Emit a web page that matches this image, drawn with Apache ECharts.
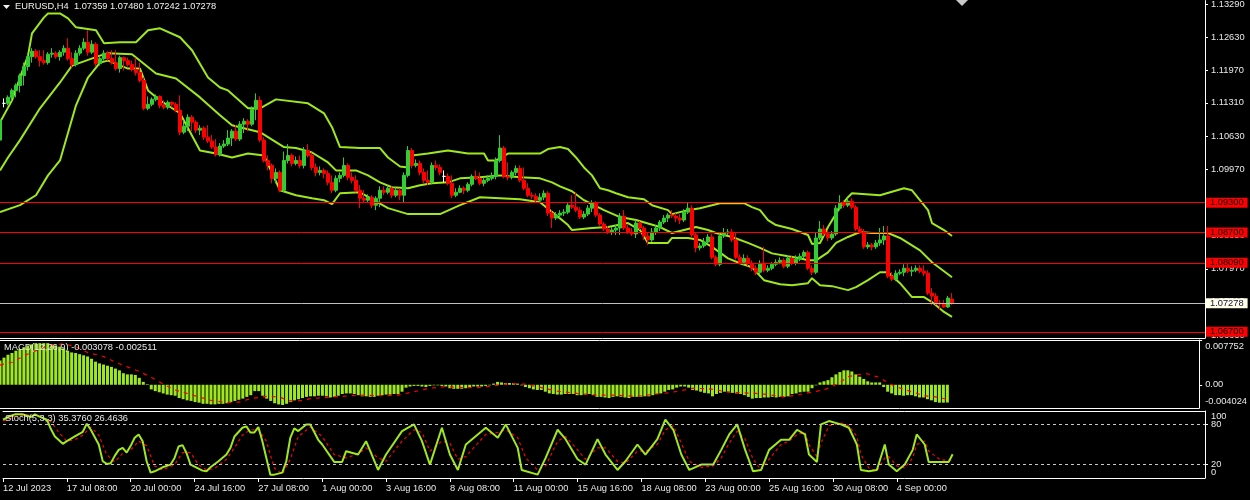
<!DOCTYPE html>
<html><head><meta charset="utf-8">
<script src="https://cdn.jsdelivr.net/npm/echarts@6/dist/echarts.min.js"></script>
<style>html,body{margin:0;padding:0;background:#000}#c{width:1250px;height:500px}</style>
</head><body><div id="c"></div>
<script>
const tickLabels = ['12 Jul 2023','17 Jul 08:00','20 Jul 00:00','24 Jul 16:00','27 Jul 08:00','1 Aug 00:00','3 Aug 16:00','8 Aug 08:00','11 Aug 00:00','15 Aug 16:00','18 Aug 08:00','23 Aug 00:00','25 Aug 16:00','30 Aug 08:00','4 Sep 00:00'];
const tickBars = [0,16,32,48,64,80,96,112,128,144,160,176,192,208,224];
const priceTicks = [1.1329,1.1263,1.1197,1.1131,1.1063,1.0997,1.0931,1.0865,1.0797,1.0731,1.0663];
const macdTicks = [0.007752,0,-0.004024];
const stochLevels = [20,80];
const stochEnds = [0,100];
const levels = [1.093,1.087,1.0809,1.067];
const lastPrice = 1.07278;
// [open, high, low, close]
const candles = [
[1.1056,1.1106,1.1052,1.1096],[1.1130,1.1140,1.1122,1.1130],[1.1130,1.1146,1.1126,1.1142],[1.1142,1.1160,1.1136,1.1156],[1.1156,1.1170,1.1142,1.1166],
[1.1166,1.1190,1.1152,1.1186],[1.1186,1.1212,1.1166,1.1204],[1.1204,1.1231,1.1196,1.1224],[1.1224,1.1241,1.1212,1.1235],[1.1235,1.1239,1.1220,1.1224],
[1.1224,1.1237,1.1204,1.1216],[1.1216,1.1237,1.1208,1.1212],[1.1212,1.1233,1.1208,1.1229],[1.1229,1.1241,1.1222,1.1231],[1.1231,1.1235,1.1220,1.1224],
[1.1224,1.1237,1.1216,1.1233],[1.1233,1.1247,1.1226,1.1241],[1.1241,1.1261,1.1216,1.1220],[1.1220,1.1233,1.1202,1.1208],[1.1208,1.1237,1.1204,1.1231],
[1.1231,1.1247,1.1226,1.1241],[1.1241,1.1261,1.1237,1.1253],[1.1253,1.1277,1.1226,1.1233],[1.1233,1.1257,1.1229,1.1249],[1.1249,1.1253,1.1204,1.1210],
[1.1210,1.1226,1.1206,1.1220],[1.1220,1.1237,1.1216,1.1231],[1.1231,1.1235,1.1216,1.1220],[1.1220,1.1237,1.1208,1.1212],[1.1212,1.1237,1.1196,1.1200],
[1.1200,1.1226,1.1192,1.1222],[1.1222,1.1224,1.1196,1.1216],[1.1216,1.1222,1.1204,1.1208],[1.1208,1.1216,1.1194,1.1198],[1.1198,1.1222,1.1186,1.1192],
[1.1192,1.1212,1.1172,1.1176],[1.1176,1.1182,1.1116,1.1120],[1.1120,1.1144,1.1116,1.1128],[1.1128,1.1142,1.1124,1.1138],[1.1138,1.1148,1.1134,1.1144],
[1.1144,1.1146,1.1120,1.1126],[1.1126,1.1136,1.1118,1.1122],[1.1122,1.1136,1.1118,1.1132],[1.1132,1.1134,1.1122,1.1128],[1.1128,1.1132,1.1112,1.1116],
[1.1116,1.1146,1.1066,1.1072],[1.1072,1.1096,1.1068,1.1084],[1.1084,1.1108,1.1074,1.1102],[1.1102,1.1106,1.1074,1.1092],[1.1092,1.1096,1.1070,1.1076],
[1.1076,1.1086,1.1066,1.1080],[1.1080,1.1084,1.1056,1.1062],[1.1062,1.1086,1.1050,1.1054],[1.1054,1.1066,1.1038,1.1042],[1.1042,1.1058,1.1023,1.1027],
[1.1027,1.1050,1.1023,1.1044],[1.1044,1.1056,1.1040,1.1048],[1.1048,1.1076,1.1044,1.1060],[1.1060,1.1078,1.1044,1.1074],[1.1074,1.1086,1.1054,1.1058],
[1.1058,1.1094,1.1054,1.1088],[1.1088,1.1100,1.1070,1.1094],[1.1094,1.1098,1.1074,1.1088],[1.1088,1.1124,1.1084,1.1118],[1.1118,1.1150,1.1096,1.1136],
[1.1136,1.1144,1.1052,1.1056],[1.1056,1.1062,1.1011,1.1015],[1.1015,1.1025,1.0995,1.1005],[1.1005,1.1009,1.0969,1.0979],[1.0979,1.0999,1.0969,1.0991],
[1.0991,1.0995,1.0951,1.0955],[1.0955,1.1033,1.0951,1.1015],[1.1015,1.1048,1.1009,1.1025],[1.1025,1.1029,1.1003,1.1009],[1.1009,1.1023,1.1005,1.1015],
[1.1015,1.1025,1.0999,1.1005],[1.1005,1.1042,1.0999,1.1035],[1.1035,1.1048,1.1021,1.1025],[1.1025,1.1031,1.0995,1.1001],[1.1001,1.1009,1.0983,1.0991],
[1.0991,1.1003,1.0985,1.0995],[1.0995,1.0999,1.0979,1.0989],[1.0989,1.0995,1.0965,1.0971],[1.0971,1.0985,1.0949,1.0955],[1.0955,1.0985,1.0951,1.0979],
[1.0979,1.0991,1.0971,1.0985],[1.0985,1.1021,1.0981,1.1005],[1.1005,1.1009,1.0975,1.0981],[1.0981,1.0991,1.0969,1.0975],[1.0975,1.0985,1.0951,1.0955],
[1.0955,1.0965,1.0919,1.0939],[1.0939,1.0955,1.0929,1.0935],[1.0935,1.0947,1.0931,1.0941],[1.0941,1.0945,1.0919,1.0925],[1.0925,1.0943,1.0915,1.0939],
[1.0939,1.0963,1.0921,1.0955],[1.0955,1.0963,1.0945,1.0951],[1.0951,1.0965,1.0947,1.0959],[1.0959,1.0963,1.0939,1.0945],[1.0945,1.0961,1.0941,1.0955],
[1.0955,1.0959,1.0935,1.0945],[1.0945,1.0991,1.0931,1.0985],[1.0985,1.1044,1.0981,1.1035],[1.1035,1.1040,1.0999,1.1005],[1.1005,1.1017,1.1001,1.1009],
[1.1009,1.1015,1.0985,1.0991],[1.0991,1.0999,1.0969,1.0975],[1.0975,1.0995,1.0965,1.0971],[1.0971,1.1011,1.0967,1.1005],[1.1005,1.1015,1.0995,1.1001],
[1.1001,1.1007,1.0985,1.0991],[1.0983,1.0995,1.0971,1.0983],[1.0983,1.0989,1.0965,1.0969],[1.0969,1.0985,1.0939,1.0945],[1.0945,1.0959,1.0941,1.0951],
[1.0951,1.0965,1.0949,1.0959],[1.0959,1.0963,1.0947,1.0955],[1.0955,1.0971,1.0951,1.0967],[1.0967,1.0987,1.0963,1.0983],[1.0983,1.0995,1.0975,1.0979],
[1.0979,1.0991,1.0965,1.0969],[1.0969,1.0981,1.0963,1.0975],[1.0975,1.0985,1.0971,1.0979],[1.0979,1.0991,1.0975,1.0983],[1.0983,1.1021,1.0977,1.1015],
[1.1015,1.1066,1.1011,1.1040],[1.1040,1.1044,1.0979,1.0983],[1.0983,1.1011,1.0975,1.0981],[1.0981,1.0995,1.0977,1.0991],[1.0991,1.1005,1.0985,1.0999],
[1.0999,1.1005,1.0971,1.0975],[1.0975,1.1001,1.0955,1.0959],[1.0959,1.0969,1.0941,1.0945],[1.0945,1.0951,1.0937,1.0943],[1.0943,1.0949,1.0931,1.0935],
[1.0935,1.0949,1.0931,1.0941],[1.0941,1.0955,1.0935,1.0949],[1.0949,1.0953,1.0903,1.0909],[1.0909,1.0915,1.0879,1.0899],[1.0899,1.0911,1.0895,1.0905],
[1.0905,1.0915,1.0899,1.0909],[1.0909,1.0917,1.0903,1.0911],[1.0911,1.0929,1.0907,1.0925],[1.0925,1.0945,1.0917,1.0921],[1.0921,1.0951,1.0911,1.0915],
[1.0915,1.0921,1.0897,1.0901],[1.0901,1.0913,1.0897,1.0907],[1.0907,1.0925,1.0903,1.0919],[1.0919,1.0935,1.0911,1.0929],[1.0929,1.0933,1.0901,1.0905],
[1.0905,1.0909,1.0883,1.0887],[1.0887,1.0891,1.0873,1.0877],[1.0877,1.0883,1.0867,1.0871],[1.0871,1.0881,1.0865,1.0875],[1.0875,1.0885,1.0865,1.0879],
[1.0879,1.0909,1.0865,1.0903],[1.0903,1.0915,1.0875,1.0879],[1.0879,1.0885,1.0867,1.0871],[1.0871,1.0879,1.0863,1.0867],[1.0867,1.0895,1.0859,1.0889],
[1.0889,1.0893,1.0875,1.0879],[1.0879,1.0883,1.0855,1.0863],[1.0863,1.0869,1.0845,1.0855],[1.0855,1.0879,1.0851,1.0871],[1.0871,1.0885,1.0865,1.0879],
[1.0879,1.0895,1.0873,1.0891],[1.0891,1.0905,1.0887,1.0899],[1.0899,1.0909,1.0891,1.0905],[1.0905,1.0915,1.0899,1.0903],[1.0903,1.0909,1.0891,1.0899],
[1.0899,1.0907,1.0887,1.0895],[1.0895,1.0917,1.0891,1.0911],[1.0911,1.0931,1.0907,1.0919],[1.0919,1.0925,1.0861,1.0865],[1.0865,1.0871,1.0830,1.0839],
[1.0839,1.0849,1.0834,1.0843],[1.0843,1.0859,1.0839,1.0851],[1.0851,1.0867,1.0847,1.0861],[1.0861,1.0867,1.0816,1.0820],[1.0820,1.0824,1.0802,1.0806],
[1.0806,1.0869,1.0802,1.0863],[1.0863,1.0879,1.0859,1.0869],[1.0869,1.0877,1.0865,1.0871],[1.0871,1.0877,1.0851,1.0855],[1.0855,1.0869,1.0816,1.0820],
[1.0820,1.0826,1.0806,1.0810],[1.0810,1.0826,1.0804,1.0818],[1.0818,1.0824,1.0802,1.0808],[1.0808,1.0814,1.0792,1.0798],[1.0798,1.0804,1.0784,1.0790],
[1.0790,1.0814,1.0786,1.0808],[1.0808,1.0841,1.0790,1.0794],[1.0794,1.0804,1.0790,1.0798],[1.0798,1.0810,1.0794,1.0806],[1.0806,1.0816,1.0802,1.0810],
[1.0810,1.0820,1.0806,1.0814],[1.0814,1.0818,1.0798,1.0802],[1.0802,1.0824,1.0798,1.0818],[1.0818,1.0822,1.0804,1.0808],[1.0808,1.0824,1.0804,1.0816],
[1.0816,1.0828,1.0812,1.0822],[1.0822,1.0834,1.0818,1.0830],[1.0830,1.0834,1.0794,1.0798],[1.0798,1.0804,1.0784,1.0790],[1.0790,1.0871,1.0786,1.0859],
[1.0859,1.0893,1.0855,1.0877],[1.0877,1.0885,1.0863,1.0867],[1.0867,1.0873,1.0853,1.0859],[1.0859,1.0873,1.0855,1.0867],[1.0867,1.0925,1.0863,1.0919],
[1.0919,1.0945,1.0915,1.0929],[1.0929,1.0935,1.0919,1.0925],[1.0925,1.0939,1.0921,1.0933],[1.0933,1.0939,1.0917,1.0921],[1.0921,1.0925,1.0873,1.0877],
[1.0877,1.0883,1.0867,1.0871],[1.0871,1.0877,1.0837,1.0841],[1.0841,1.0851,1.0837,1.0845],[1.0845,1.0849,1.0834,1.0841],[1.0841,1.0855,1.0837,1.0849],
[1.0849,1.0879,1.0843,1.0855],[1.0855,1.0883,1.0845,1.0863],[1.0863,1.0883,1.0778,1.0782],[1.0782,1.0790,1.0772,1.0776],[1.0776,1.0794,1.0772,1.0788],
[1.0788,1.0796,1.0784,1.0790],[1.0790,1.0806,1.0782,1.0798],[1.0798,1.0808,1.0788,1.0792],[1.0792,1.0802,1.0782,1.0794],[1.0794,1.0804,1.0790,1.0798],
[1.0798,1.0804,1.0788,1.0792],[1.0792,1.0804,1.0782,1.0788],[1.0788,1.0794,1.0744,1.0748],[1.0748,1.0758,1.0724,1.0742],[1.0742,1.0748,1.0724,1.0728],
[1.0728,1.0734,1.0714,1.0726],[1.0726,1.0734,1.0718,1.0720],[1.0720,1.0742,1.0718,1.0738],[1.07359,1.07480,1.07242,1.07278]
];
// Bollinger bands read at [bar, price]
const bbUpper = [[0,1.1092],[3,1.1136],[5,1.1182],[7,1.1226],[8,1.1271],[11,1.1303],[12,1.1311],[15,1.1311],[17,1.1301],[19,1.1283],[24,1.1277],[26,1.1251],[30,1.1253],[34,1.1253],[37,1.1277],[40,1.1281],[45,1.1263],[48,1.1237],[52,1.1182],[55,1.1162],[57,1.1156],[62,1.1120],[65,1.1120],[69,1.1138],[77,1.1130],[81,1.1110],[83,1.1082],[85,1.1042],[90,1.1040],[95,1.1040],[97,1.1021],[100,1.1003],[102,1.1001],[103,1.1025],[107,1.1029],[112,1.1035],[117,1.1029],[121,1.1029],[122,1.1015],[124,1.1015],[127,1.1029],[135,1.1029],[137,1.1038],[140,1.1042],[142,1.1038],[144,1.1021],[146,1.1001],[148,1.0985],[150,1.0959],[152,1.0955],[154,1.0949],[157,1.0941],[161,1.0937],[163,1.0925],[167,1.0915],[168,1.0907],[172,1.0915],[175,1.0919],[180,1.0929],[186,1.0929],[188,1.0921],[190,1.0915],[192,1.0895],[194,1.0885],[198,1.0877],[202,1.0865],[203,1.0847],[205,1.0849],[207,1.0881],[210,1.0921],[212,1.0941],[213,1.0949],[220,1.0945],[226,1.0959],[228,1.0955],[232,1.0915],[233,1.0889],[236,1.0875],[238,1.0863]];
const bbMiddle = [[0,1.0995],[2,1.1021],[5,1.1056],[10,1.1120],[15,1.1172],[18,1.1206],[25,1.1226],[27,1.1231],[33,1.1229],[39,1.1190],[44,1.1180],[50,1.1142],[55,1.1106],[58,1.1086],[65,1.1072],[67,1.1062],[71,1.1042],[74,1.1040],[78,1.1031],[82,1.1011],[84,1.0995],[89,1.0995],[92,1.0985],[95,1.0971],[98,1.0961],[102,1.0959],[105,1.0965],[108,1.0969],[112,1.0971],[115,1.0979],[120,1.0981],[125,1.0985],[130,1.0981],[135,1.0979],[138,1.0971],[140,1.0963],[143,1.0953],[146,1.0935],[151,1.0915],[155,1.0901],[159,1.0895],[165,1.0881],[168,1.0869],[171,1.0875],[174,1.0881],[177,1.0875],[179,1.0869],[183,1.0861],[187,1.0849],[190,1.0839],[193,1.0828],[197,1.0822],[200,1.0818],[202,1.0814],[204,1.0814],[207,1.0830],[209,1.0849],[212,1.0861],[215,1.0871],[218,1.0869],[222,1.0869],[225,1.0859],[230,1.0834],[233,1.0810],[238,1.0780]];
const bbLower = [[0,1.0911],[5,1.0925],[9,1.0945],[12,1.0985],[15,1.1015],[19,1.1126],[22,1.1182],[25,1.1212],[27,1.1216],[32,1.1200],[35,1.1200],[37,1.1156],[40,1.1136],[45,1.1110],[50,1.1035],[54,1.1029],[58,1.1021],[62,1.1029],[66,1.1025],[70,1.0955],[74,1.0945],[78,1.0939],[81,1.0935],[83,1.0927],[85,1.0949],[90,1.0951],[97,1.0919],[102,1.0907],[110,1.0907],[115,1.0925],[120,1.0941],[125,1.0939],[130,1.0937],[135,1.0931],[139,1.0905],[142,1.0885],[143,1.0875],[148,1.0879],[152,1.0881],[157,1.0889],[160,1.0875],[162,1.0849],[167,1.0849],[168,1.0859],[172,1.0859],[175,1.0855],[178,1.0841],[182,1.0818],[185,1.0808],[188,1.0800],[191,1.0774],[195,1.0766],[198,1.0764],[202,1.0768],[203,1.0778],[205,1.0764],[208,1.0762],[212,1.0754],[214,1.0760],[217,1.0774],[220,1.0790],[222,1.0790],[225,1.0768],[228,1.0740],[231,1.0740],[233,1.0730],[236,1.0710],[238,1.0700]];
// MACD main (histogram), one per bar
const macdMain = [
0.0042,0.0047,0.0052,0.0055,0.0059,0.0062,0.0065,0.0068,0.0070,0.0072,
0.0072,0.0072,0.0072,0.0070,0.0068,0.0066,0.0063,0.0059,0.0056,0.0055,
0.0053,0.0051,0.0049,0.0045,0.0040,0.0037,0.0035,0.0033,0.0031,0.0028,
0.0025,0.0020,0.0018,0.0018,0.0017,0.0012,0.0005,0.0001,-0.0008,-0.0011,
-0.0013,-0.0015,-0.0017,-0.0018,-0.0019,-0.0023,-0.0025,-0.0027,-0.0028,-0.0030,
-0.0031,-0.0033,-0.0033,-0.0034,-0.0034,-0.0033,-0.0033,-0.0032,-0.0030,-0.0028,
-0.0026,-0.0024,-0.0021,-0.0018,-0.0011,-0.0011,-0.0019,-0.0024,-0.0028,-0.0032,
-0.0034,-0.0035,-0.0033,-0.0030,-0.0027,
-0.0025,-0.0023,-0.0021,-0.0020,-0.0020,-0.0019,-0.0019,-0.0020,-0.0022,-0.0021,
-0.0019,-0.0016,-0.0015,-0.0015,-0.0016,-0.0018,-0.0020,-0.0020,-0.0021,-0.0021,
-0.0019,-0.0018,-0.0017,-0.0017,-0.0016,-0.0016,-0.0012,-0.0005,-0.0003,-0.0002,
-0.0002,-0.0003,-0.0004,-0.0002,-0.0001,-0.0001,-0.0002,-0.0003,-0.0006,-0.0007,
-0.0007,-0.0007,-0.0006,-0.0004,-0.0003,-0.0003,-0.0003,-0.0002,-0.0001,0.0002,
0.0005,0.0004,0.0003,0.0003,0.0003,0.0002,-0.0001,-0.0004,-0.0006,-0.0008,
-0.0009,-0.0009,-0.0012,-0.0015,-0.0016,-0.0017,-0.0017,-0.0016,-0.0016,-0.0016,
-0.0018,-0.0018,-0.0017,-0.0016,-0.0018,
-0.0021,-0.0021,-0.0022,-0.0023,-0.0021,-0.0020,-0.0021,-0.0022,-0.0023,-0.0021,
-0.0021,-0.0021,-0.0020,-0.0020,-0.0018,-0.0016,-0.0015,-0.0012,-0.0009,-0.0008,
-0.0005,-0.0003,-0.0003,-0.0005,-0.0009,-0.0010,-0.0012,-0.0014,-0.0015,-0.0020,
-0.0016,-0.0014,-0.0012,-0.0012,-0.0014,-0.0015,-0.0016,-0.0018,-0.0021,-0.0024,
-0.0023,-0.0023,-0.0022,-0.0022,-0.0021,-0.0022,-0.0021,-0.0021,-0.0020,-0.0016,
-0.0015,-0.0013,-0.0012,-0.0012,-0.0006,-0.0001,0.0004,0.0006,0.0008,0.0013,
0.0018,0.0022,0.0025,0.0025,0.0023,0.0018,0.0014,0.0010,0.0006,0.0004,
0.0004,0.0004,-0.0004,-0.0012,-0.0015,-0.0018,-0.0018,-0.0019,-0.0018,-0.0018,
-0.0020,-0.0022,-0.0022,-0.0025,-0.0027,-0.0030,-0.0031,-0.0031,-0.003078
];
const macdSignal = [[0,0.0034],[3,0.0039],[6,0.0050],[9,0.0059],[12,0.0068],[16,0.0071],[19,0.0066],[22,0.0056],[26,0.0049],[29,0.0039],[32,0.0031],[35,0.0023],[38,0.0013],[41,0.0001],[44,-0.0009],[47,-0.0015],[50,-0.0021],[53,-0.0027],[57,-0.0031],[60,-0.0030],[63,-0.0024],[67,-0.0020],[70,-0.0021],[73,-0.0028],[75,-0.0028],[78,-0.0024],[84,-0.0021],[90,-0.0018],[96,-0.0019],[100,-0.0018],[104,-0.0012],[108,-0.0006],[112,-0.0003],[116,-0.0005],[120,-0.0005],[124,-0.0002],[128,0.0002],[132,0.0001],[136,-0.0005],[140,-0.0011],[145,-0.0015],[150,-0.0018],[155,-0.0018],[160,-0.0020],[165,-0.0016],[168,-0.0014],[172,-0.0009],[174,-0.0006],[178,-0.0007],[180,-0.0009],[183,-0.0013],[187,-0.0014],[190,-0.0015],[193,-0.0017],[197,-0.0021],[200,-0.0018],[203,-0.0014],[207,-0.0009],[209,-0.0003],[211,0.0004],[213,0.0014],[216,0.0018],[218,0.0019],[219,0.0016],[221,0.0013],[222,0.0008],[224,0.0000],[227,-0.0008],[230,-0.0014],[232,-0.0019],[235,-0.0021],[238,-0.002511]];
const stochMain = [[0,87],[2,93],[3,95],[5,95],[7,91],[8,95],[9,92],[11,87],[12,73],[13,62],[15,51],[16,55],[18,62],[20,69],[21,81],[22,72],[24,50],[25,25],[26,21],[27,22],[28,33],[29,42],[30,45],[31,38],[32,48],[33,60],[34,65],[35,55],[36,25],[37,8],[38,10],[40,16],[42,20],[43,30],[44,47],[45,49],[46,37],[47,20],[48,17],[50,11],[51,10],[52,16],[54,25],[56,35],[57,45],[58,62],[60,75],[61,77],[62,68],[63,68],[64,76],[65,55],[66,30],[67,5],[68,5],[70,8],[71,25],[72,60],[73,74],[74,70],[76,80],[77,80],[79,57],[80,50],[83,24],[85,24],[86,40],[89,35],[91,55],[94,12],[96,35],[100,70],[103,80],[105,55],[107,20],[110,75],[112,35],[114,12],[116,50],[121,75],[124,60],[126,80],[129,45],[130,12],[134,5],[136,30],[139,72],[141,58],[144,28],[146,20],[149,58],[151,35],[154,12],[156,25],[159,50],[161,35],[164,58],[166,87],[168,72],[170,35],[172,12],[175,20],[178,20],[180,42],[182,65],[184,80],[186,42],[188,10],[190,12],[192,42],[195,57],[197,57],[199,72],[201,65],[202,35],[204,24],[205,80],[207,85],[210,80],[212,75],[214,50],[215,12],[217,10],[219,12],[221,50],[222,20],[224,10],[226,20],[228,42],[229,65],[231,50],[232,24],[235,24],[237,24],[238,35.376]];
const stochSignal = [[0,85],[3,92],[6,94],[9,93],[12,84],[14,68],[16,55],[18,57],[20,64],[22,76],[24,64],[26,35],[28,24],[30,37],[32,42],[34,55],[36,48],[38,18],[40,12],[43,20],[45,38],[47,38],[49,20],[51,12],[53,14],[56,28],[58,45],[60,64],[62,72],[64,72],[66,55],[68,15],[70,6],[72,28],[74,62],[77,76],[80,62],[83,35],[86,30],[89,36],[91,45],[94,30],[96,25],[100,55],[103,72],[105,68],[107,40],[110,55],[112,52],[114,28],[116,32],[121,65],[124,68],[126,72],[129,60],[131,30],[134,12],[136,18],[139,55],[141,62],[144,42],[146,28],[149,45],[151,45],[154,25],[156,22],[159,40],[161,40],[164,50],[166,72],[168,78],[170,52],[172,25],[175,16],[178,18],[180,30],[182,52],[184,70],[186,58],[188,28],[190,12],[192,28],[195,50],[197,55],[199,65],[201,68],[202,50],[204,32],[205,52],[207,78],[210,82],[212,78],[214,62],[215,35],[217,15],[219,10],[221,30],[222,32],[224,18],[226,15],[228,30],[229,50],[231,55],[232,40],[235,27],[238,26.4636]];

const FONT = "'Liberation Sans',Arial,sans-serif";
const FS = 9.3;
const TXT = '#e8e8e8';
const BAND = '#9fe81e';
const XMAX = 301.25;

const chart = echarts.init(document.getElementById('c'), null, {renderer:'canvas'});
const hiddenX = (g, pos) => ({gridIndex:g, type:'value', min:0, max:XMAX, position:pos,
  axisLine:{show:true, onZero:false, lineStyle:{color:'#fff', width:1}}, axisTick:{show:false}, axisLabel:{show:false}, splitLine:{show:false}});
const yBase = (g) => ({gridIndex:g, type:'value', position:'right', scale:true,
  axisLine:{show:true, onZero:false, lineStyle:{color:'#fff'}}, splitLine:{show:false}});
const rt = (pad) => ({padding:pad, color:TXT, fontSize:FS, fontFamily:FONT});
const levelLabel = (txt, bg, fg) => ({show:true, position:'end', distance:1, formatter:txt, backgroundColor:bg, color:fg,
  padding:[0,4,0,4], lineHeight:10, fontSize:FS, fontFamily:FONT});

const option = {
  backgroundColor:'#000',
  animation:false,
  title:[
    {text:'EURUSD,H4  1.07359 1.07480 1.07242 1.07278', left:15, top:2, padding:0, textStyle:{color:'#f2f2ea', fontSize:FS, fontWeight:'normal', fontFamily:FONT}},
    {text:'MACD(12,26,9) -0.003078 -0.002511', left:4, top:343, padding:0, textStyle:{color:TXT, fontSize:FS, fontWeight:'normal', fontFamily:FONT}},
    {text:'Stoch(5,3,3) 35.3760 26.4636', left:5, top:414, padding:0, textStyle:{color:TXT, fontSize:FS, fontWeight:'normal', fontFamily:FONT}}
  ],
  graphic:[
    {type:'polygon', shape:{points:[[3,5],[10,5],[6.5,9]]}, style:{fill:'#f2f2ea'}},
    {type:'polygon', shape:{points:[[956,0],[968,0],[962,6]]}, style:{fill:'#c8c8c8'}}
  ],
  grid:[
    {left:0, right:45, top:0, height:338},
    {left:0, right:45, top:340, height:68},
    {left:0, right:45, top:411, height:67}
  ],
  xAxis:[
    hiddenX(0,'bottom'),
    hiddenX(1,'bottom'),
    {gridIndex:2, type:'value', min:0, max:XMAX, position:'bottom',
      axisLine:{show:true, onZero:false, lineStyle:{color:'#fff'}},
      axisTick:{show:true, customValues:tickBars, length:4, lineStyle:{color:'#fff'}},
      axisLabel:{customValues:tickBars, hideOverlap:false, formatter:(v)=>tickLabels[Math.round(v/16)] || '', align:'left', padding:0, margin:6, color:TXT, fontSize:FS, fontFamily:FONT},
      splitLine:{show:false}},
    hiddenX(1,'top'),
    hiddenX(2,'top')
  ],
  yAxis:[
    Object.assign(yBase(0), {min:1.06576, max:1.1337,
      axisTick:{show:true, customValues:priceTicks, length:3, lineStyle:{color:'#fff'}},
      axisLabel:{customValues:priceTicks, hideOverlap:false, formatter:(v)=>v.toFixed(5), margin:6, color:TXT, fontSize:FS, fontFamily:FONT}}),
    Object.assign(yBase(1), {min:-0.004024, max:0.007752,
      axisTick:{show:true, customValues:[0.007752,0], length:3, lineStyle:{color:'#fff'}},
      axisLabel:{customValues:macdTicks, hideOverlap:false, showMinLabel:true, showMaxLabel:true, margin:6, color:TXT, fontSize:FS, fontFamily:FONT,
        formatter:(v)=> v>0.005 ? '{t|0.007752}' : (v< -0.003 ? '{b|-0.004024}' : '{n|0.00}'),
        rich:{t:rt([12,0,0,0]), b:rt([0,0,14,0]), n:rt(0)}}}),
    Object.assign(yBase(2), {min:0, max:100,
      axisTick:{show:true, customValues:stochLevels, length:3, lineStyle:{color:'#fff'}},
      axisLabel:{customValues:stochLevels, hideOverlap:false, margin:6, color:TXT, fontSize:FS, fontFamily:FONT,
        formatter:(v)=> String(Math.round(v))}}),
    {gridIndex:2, type:'value', position:'right', min:0, max:100,
      axisLine:{show:false, onZero:false}, axisTick:{show:false}, splitLine:{show:false},
      axisLabel:{customValues:stochEnds, hideOverlap:false, showMinLabel:true, showMaxLabel:true, margin:6, color:TXT, fontSize:FS, fontFamily:FONT,
        formatter:(v)=> v>50 ? '{t|100}' : '{b|0}',
        rich:{t:rt([10,0,0,0]), b:rt([0,0,12,0])}}}
  ],
  series:[
    {type:'line', xAxisIndex:0, yAxisIndex:0, data:bbUpper, showSymbol:false, lineStyle:{color:BAND, width:2}, z:2},
    {type:'line', xAxisIndex:0, yAxisIndex:0, data:bbMiddle, showSymbol:false, lineStyle:{color:BAND, width:2}, z:2,
      markLine:{silent:true, symbol:'none', animation:false, precision:5, z:5,
        data:[
          ...levels.map(v=>({yAxis:v, lineStyle:{color:'#ff0000', width:1, type:'solid'}, label:levelLabel(v.toFixed(5), '#ff0000', '#000')})),
          {yAxis:lastPrice, lineStyle:{color:'#c0c0c0', width:1, type:'solid'}, label:levelLabel(lastPrice.toFixed(5), '#ffffe8', '#101040')}
        ]}},
    {type:'line', xAxisIndex:0, yAxisIndex:0, data:bbLower, showSymbol:false, lineStyle:{color:BAND, width:2}, z:2},
    {type:'candlestick', xAxisIndex:0, yAxisIndex:0, barWidth:3, z:3,
      encode:{x:0, y:[1,2,3,4]},
      data:candles.map((r,i)=>[i, r[0], r[3], r[2], r[1]]),
      itemStyle:{color:'#32cd32', color0:'#ff0000', borderColor:'#32cd32', borderColor0:'#ff0000', borderColorDoji:'#ffffff', borderWidth:1}},
    {type:'bar', xAxisIndex:1, yAxisIndex:1, data:macdMain.map((v,i)=>[i,v]), barWidth:3, itemStyle:{color:BAND}},
    {type:'line', xAxisIndex:1, yAxisIndex:1, data:macdSignal, showSymbol:false, lineStyle:{color:'#ff0000', width:1.2, type:[4,5]}},
    {type:'line', xAxisIndex:2, yAxisIndex:2, data:stochMain, showSymbol:false, lineStyle:{color:BAND, width:2}, z:3,
      markLine:{silent:true, symbol:'none', animation:false, precision:2, label:{show:false},
        lineStyle:{color:'#c8c8c8', width:1, type:[3,3]}, data:stochLevels.map(v=>({yAxis:v}))}},
    {type:'line', xAxisIndex:2, yAxisIndex:2, data:stochSignal, showSymbol:false, lineStyle:{color:'#ff0000', width:1.2, type:[3,3]}, z:2}
  ]
};
chart.setOption(option);
</script>
</body></html>
